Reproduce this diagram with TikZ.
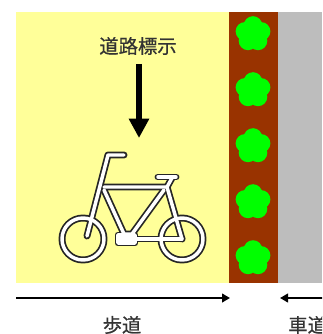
\documentclass[tikz,border=0pt]{standalone}
\usepackage{fontspec}
\newfontfamily\cjk[FakeBold=0.6]{Noto Sans CJK JP}
\usetikzlibrary{arrows.meta}
\definecolor{ylw}{HTML}{FFFF99}
\definecolor{brn}{HTML}{993300}
\definecolor{gry}{HTML}{BDBDBD}
\definecolor{grn}{HTML}{00FF00}
\tikzset{
  x=0.75pt,y=-0.75pt,
  lbl/.style={font=\cjk\fontsize{14.5pt}{14.5pt}\selectfont,text=black!80,inner sep=0pt},
  bigarrow/.style={line width=4.8pt,-{Triangle[length=14.5pt,width=14.5pt]}},
  spanarrow/.style={line width=2.2pt,-{Triangle[length=6pt,width=6.5pt]}},
  bikeo/.style={draw=black!85,line width=5.2pt,line cap=round,line join=round},
  bikei/.style={draw=white,line width=2.6pt,line cap=round,line join=round},
}
\newcommand{\flowerat}[2]{%
  \fill[grn] (#1,#2) circle[radius=12];
  \foreach \a in {90,162,234,306,18}
    \fill[grn] (#1,#2) ++(\a:8.5 and -8.5) circle[radius=9.3];
}
\newcommand{\bikepaths}[1]{%
  \draw[#1] (83,239) circle[radius=21];
  \draw[#1] (182,239) circle[radius=21];
  \draw[#1] (124,155) -- (108,155) -- (87,236);
  \draw[#1] (104,187) -- (167,187) -- (172,178);
  \draw[#1] (158,177) -- (176,177);
  \draw[#1] (167,187) -- (182,239);
  \draw[#1] (104,190) -- (124,234) -- (132,234) -- (164,190);
  \draw[#1] (134,239) -- (182,239);
  \draw[#1] (118,235) -- (135,235) -- (135,243) -- (118,243) -- cycle;
}
\begin{document}
\begin{tikzpicture}
\useasboundingbox (0,0) rectangle (322,334);
\clip (0,0) rectangle (322,334);
\fill[white] (0,0) rectangle (322,334);
\fill[ylw] (16,12) rectangle (229,283);
\fill[brn] (229,12) rectangle (278,283);
\fill[gry] (278,12) rectangle (322,283);
\flowerat{253}{34}
\flowerat{253}{90}
\flowerat{253}{146}
\flowerat{253}{202}
\flowerat{253}{258}
\node[lbl] (sign) at (138,46) {道路標示};
\coordinate (bigtop) at (139,64);
\coordinate (bigtip) at (139,138);
\draw[bigarrow] (bigtop) -- (bigtip);
\bikepaths{bikeo}
\bikepaths{bikei}
\fill[white] (117,234) rectangle (136,244);
\coordinate (wl) at (16,298);
\coordinate (wr) at (230,298);
\coordinate (rl) at (280,298);
\coordinate (rr) at (330,298);
\draw[spanarrow] (wl) -- (wr);
\draw[spanarrow] (rr) -- (rl);
\node[lbl] (walk) at (122,325) {歩道};
\node[lbl,anchor=west] (road) at (288,325) {車道};
\end{tikzpicture}
\end{document}
